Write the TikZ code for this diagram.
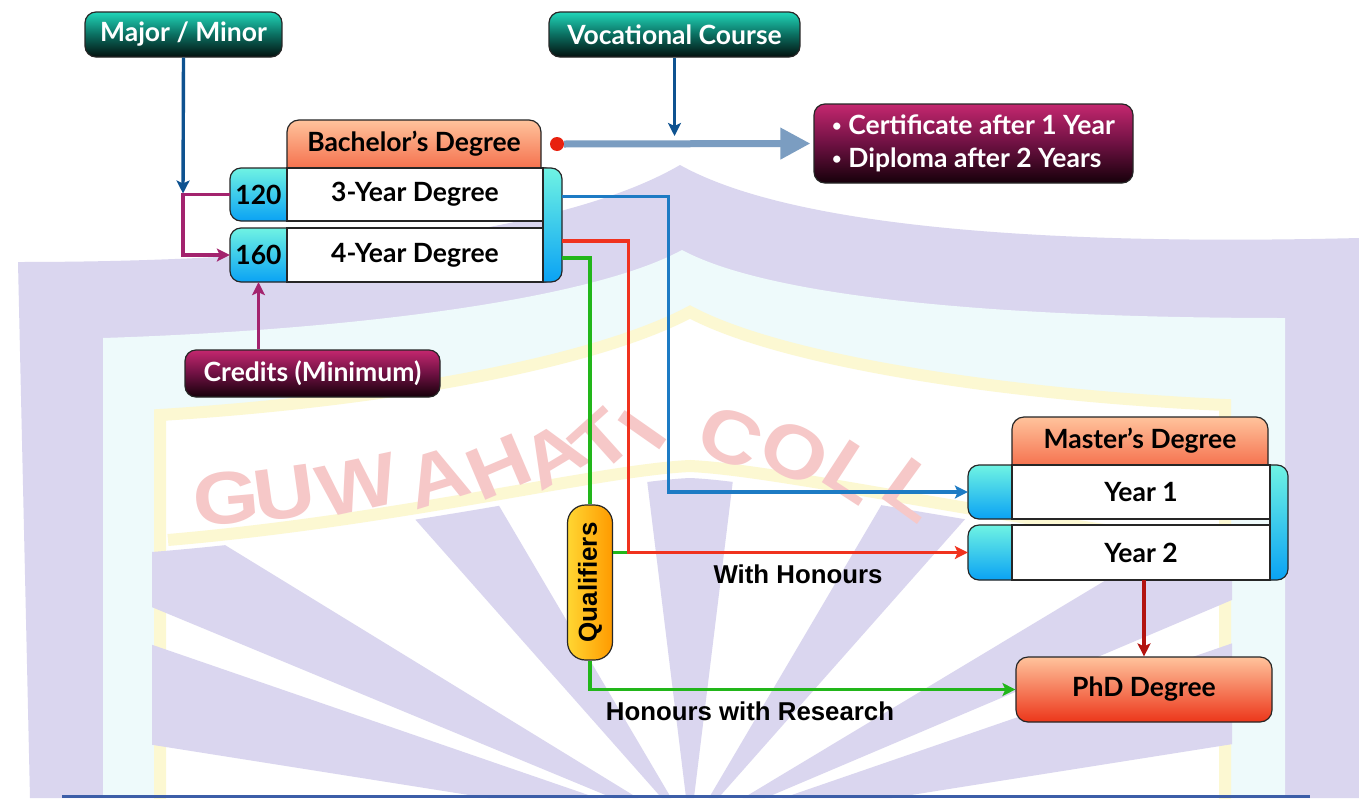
\documentclass[tikz,border=0pt]{standalone}
\usepackage{fontspec}
\usepackage{graphicx}
\setmainfont{Lato}
\newfontfamily\arialf{Liberation Sans}
\usetikzlibrary{arrows.meta,calc}

\definecolor{lav}{HTML}{DAD6EF}
\definecolor{paleC}{HTML}{EEFAFB}
\definecolor{paleY}{HTML}{FCF8D2}
\definecolor{wmpink}{HTML}{F6C8C8}
\definecolor{tealT}{HTML}{20D6B9}
\definecolor{tealM}{HTML}{0B6E60}
\definecolor{tealB}{HTML}{03100E}
\definecolor{magT}{HTML}{C4276F}
\definecolor{magM}{HTML}{6E1142}
\definecolor{magB}{HTML}{16000A}
\definecolor{orT}{HTML}{FFC39C}
\definecolor{orB}{HTML}{F25A38}
\definecolor{phdB}{HTML}{EC361A}
\definecolor{cyT}{HTML}{6FF3E3}
\definecolor{cyB}{HTML}{0AA2F4}
\definecolor{qL}{HTML}{FFD632}
\definecolor{qR}{HTML}{FF9A00}
\definecolor{navy}{HTML}{0E5290}
\definecolor{plum}{HTML}{A3236E}
\definecolor{rblue}{HTML}{1D7BC4}
\definecolor{rred}{HTML}{F0321E}
\definecolor{rgreen}{HTML}{22B61A}
\definecolor{dred}{HTML}{B3140F}
\definecolor{steel}{HTML}{7B9DC1}
\definecolor{dotred}{HTML}{E8210F}
\definecolor{botline}{HTML}{3C5EA8}
\definecolor{edge}{HTML}{262626}

\newcommand{\smbul}{\raisebox{0.12em}{\scalebox{0.62}{•}}\hspace{0.25em}}

\tikzset{
  lbl/.style={font=\bfseries\fontsize{26.5}{33}\selectfont, inner sep=0pt},
  albl/.style={font=\arialf\bfseries\fontsize{25.8}{30}\selectfont, inner sep=0pt},
  boxedge/.style={draw=edge, line width=1.2pt},
  tealbox/.style={boxedge, rounded corners=11pt, top color=tealT, bottom color=tealB, middle color=tealM, text=white, lbl, minimum height=45pt},
  magbox/.style={boxedge, rounded corners=11pt, top color=magT, bottom color=magB, middle color=magM, text=white, lbl},
  cyshade/.style={boxedge, top color=cyT, bottom color=cyB},
  orshade/.style={boxedge, top color=orT, bottom color=orB},
  tip/.style={-{Stealth[length=13pt,width=13pt,inset=3pt]}},
  conn/.style={line width=3.4pt},
  wm/.style={font=\arialf\bfseries\fontsize{74}{74}\selectfont, text=wmpink, inner sep=0pt}
}

\begin{document}
\begin{tikzpicture}[x=1pt,y=-1pt]
\useasboundingbox (0,0) rectangle (1359,798);
% ---------- watermark background ----------
\fill[white] (0,0) rectangle (1359,798);
\fill[lav] (18,262) .. controls (300,262) and (560,235) .. (680,165) .. controls (800,232) and (1080,245) .. (1359,238) -- (1359,798) -- (30,798) -- cycle;
\fill[paleC] (103,338) .. controls (350,330) and (590,300) .. (682,250) .. controls (775,300) and (1020,318) .. (1285,318) -- (1285,798) -- (103,798) -- cycle;
\filldraw[fill=white, draw=paleY, line width=12pt] (160,810) -- (160,415) .. controls (400,400) and (600,360) .. (690,312) .. controls (780,360) and (1000,395) .. (1225,405) -- (1225,810);
\draw[paleY, line width=12pt] (168,540) .. controls (400,520) and (600,470) .. (690,466) .. controls (780,470) and (1000,520) .. (1218,545);
\begin{scope}
  \clip (152,552) .. controls (400,532) and (600,482) .. (690,478) .. controls (780,482) and (1000,532) .. (1232,557) -- (1232,798) -- (152,798) -- cycle;
  \foreach \a/\w in {14/5, 27/4, 54/5.5, 90/7, 126/5.5, 153/4.5, 166/5}{
    \fill[lav] (690,830) -- ({690+1100*cos(\a-\w)},{830-1100*sin(\a-\w)}) -- ({690+1100*cos(\a+\w)},{830-1100*sin(\a+\w)}) -- cycle;
  }
\end{scope}
\foreach \x/\y/\r/\l [count=\i] in {226/498/5/G, 284/493/8/U, 357/485/12/W, 437/477/17/A, 499/467/23/H, 554/455/31/A, 602/441/42/T, 642/430/55/I, 731/437/-22/C, 795/453/-28/O, 853/472/-33/L, 913/490/-36/L}{
  \node[wm, rotate=\r] (wm\i) at (\x,\y) {\scalebox{1.15}[1]{\l}};
}
\draw[botline, line width=3pt] (62,796.5) -- (1310,796.5);

% ---------- top boxes ----------
\node[tealbox, minimum width=197pt] (mm) at (183.5,34.5) {Major / Minor};
\node[tealbox, minimum width=251pt] (vc) at (674.5,34.5) {Vocational Course};
\node[magbox, minimum width=255pt, minimum height=47pt] (cr) at (312.5,373.5) {Credits (Minimum)};
\node[magbox, minimum width=319pt, minimum height=79pt, align=left] (cert) at (973.5,143.5) {\smbul Certificate after 1 Year\\\smbul Diploma after 2 Years};

% ---------- Bachelor stack ----------
\draw[orshade, rounded corners=12pt] (287,120) rectangle (541,182);
\node[lbl] (bh) at (414,144) {Bachelor’s Degree};
\draw[cyshade, rounded corners=11pt] (230,168) rectangle (556,221);
\draw[boxedge, fill=white] (287,168) rectangle (543,221);
\draw[cyshade, rounded corners=11pt] (230,228) rectangle (556,282);
\draw[boxedge, fill=white] (287,228) rectangle (543,282);
\begin{scope}
  \clip (543,150) rectangle (600,300);
  \draw[cyshade, rounded corners=11pt] (515,168) rectangle (562,282);
\end{scope}
\draw[boxedge] (543,168) -- (543,282);
\node[lbl, minimum width=57pt, minimum height=53pt] (r120) at (258.5,194.5) {120};
\node[lbl, minimum width=256pt, minimum height=53pt] (r3) at (415,194.5) {3-Year Degree};
\node[lbl, minimum width=57pt, minimum height=54pt] (r160) at (258.5,255) {160};
\node[lbl, minimum width=256pt, minimum height=54pt] (r4) at (415,255) {4-Year Degree};
\node[inner sep=0pt, minimum width=19pt, minimum height=114pt] (bs) at (552.5,225) {};

% ---------- Master stack ----------
\draw[orshade, rounded corners=12pt] (1012,417) rectangle (1268,480);
\node[lbl] (mh) at (1140,441) {Master’s Degree};
\draw[cyshade, rounded corners=11pt] (968,465) rectangle (1280,519);
\draw[boxedge, fill=white] (1012,465) rectangle (1270,519);
\draw[cyshade, rounded corners=11pt] (968,525) rectangle (1280,580);
\draw[boxedge, fill=white] (1012,525) rectangle (1270,580);
\begin{scope}
  \clip (1270,450) rectangle (1320,600);
  \draw[cyshade, rounded corners=11pt] (1245,465) rectangle (1288,580);
\end{scope}
\draw[boxedge] (1270,465) -- (1270,580);
\node[inner sep=0pt, minimum width=44pt, minimum height=54pt] (my1) at (990,492) {};
\node[lbl, minimum width=258pt, minimum height=54pt] (y1) at (1141,492) {Year 1};
\node[inner sep=0pt, minimum width=44pt, minimum height=55pt] (my2) at (990,552.5) {};
\node[lbl, minimum width=258pt, minimum height=55pt] (y2) at (1141,552.5) {Year 2};

% ---------- PhD and Qualifiers ----------
\node[boxedge, rounded corners=12pt, top color=orT, bottom color=phdB, lbl, minimum width=256pt, minimum height=65pt] (phd) at (1144,689.5) {PhD Degree};
\node[boxedge, rounded corners=18pt, left color=qL, right color=qR, minimum width=45pt, minimum height=155pt, inner sep=0pt, font=\arialf\bfseries\fontsize{26}{30}\selectfont] (q) at (590,582.5) {\rotatebox{90}{Qualifiers}};

% ---------- connectors ----------
\coordinate (jn) at (183,194.5);
\draw[plum, conn, tip] (r120.west) -- (jn) |- (r160.west);
\draw[navy, conn, tip] (mm.south) -- ($(jn)+(0,-1)$);
\draw[plum, conn, tip] (cr.north -| r160.south) -- (r160.south);

\node[circle, fill=dotred, minimum size=14pt, inner sep=0pt] (dot) at (557,144) {};
\draw[steel, line width=7pt, -{Triangle[length=30pt,width=30pt]}, shorten >=3pt] (dot.east) -- (cert.west);
\draw[navy, conn, tip] (vc.south) -- ($(vc.south |- dot)+(0,-8)$);

\coordinate (bo) at ($(bs.east |- r3.center)+(0,2)$);
\coordinate (ro) at ($(bs.east |- r4.center)+(0,-14)$);
\coordinate (go) at ($(bs.east |- r4.center)+(0,3)$);
\coordinate (rx) at ($(ro)+(66,0)$);
\draw[rblue, conn, tip] (bo) -- ++(106,0) |- (my1.west);
\draw[rred, conn, tip] (ro) -- (rx) |- (my2.west);
\draw[rgreen, conn] (go) -| (q.north);
\draw[rgreen, conn] (q.east |- my2.west) -- ($(rx |- my2.west)+(-1.7,0)$);
\draw[rgreen, conn, tip] (q.south) |- (phd.west);
\draw[dred, conn, tip] (phd.north |- y2.south) -- (phd.north);

\node[albl] (wh) at (798,574) {With Honours};
\node[albl] (hr) at (750,711) {Honours with Research};
\end{tikzpicture}
\end{document}
